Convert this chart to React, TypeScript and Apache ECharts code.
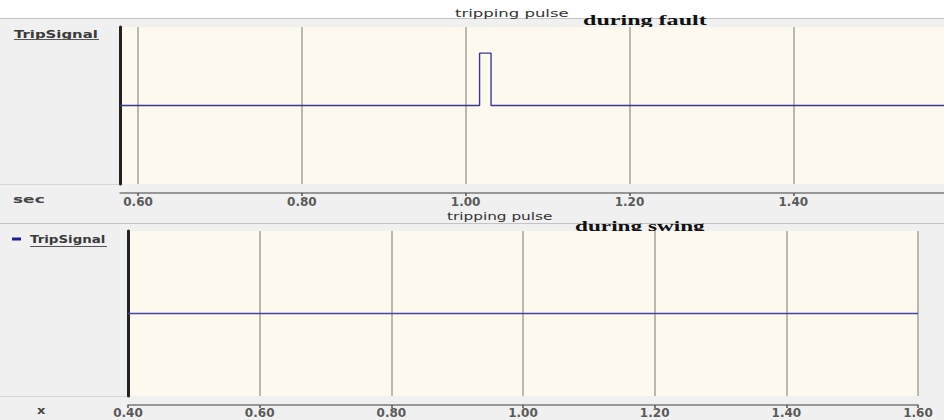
import React, { useEffect, useRef } from "react";
import * as echarts from "echarts";

// Top panel (during fault)
const faultTimes = [0.578, 1.017, 1.017, 1.031, 1.031, 1.584];
const faultValues = [0, 0, 1, 1, 0, 0];
const faultTicks = [0.6, 0.8, 1.0, 1.2, 1.4];
// Bottom panel (during swing)
const swingTimes = [0.4, 1.6];
const swingValues = [0, 0];

const SANS = "'DejaVu Sans', Verdana, sans-serif";
const SERIF = "'Liberation Serif', 'Times New Roman', serif";

export default function App() {
  const ref = useRef<HTMLDivElement>(null);
  useEffect(() => {
    if (!ref.current) return;
    const chart = echarts.init(ref.current, undefined, { renderer: "svg" });
    const fmt = (v: number) => Number(v).toFixed(2);
    const txt = (text: string, x: number, y: number, sx: number, font: any, z = -1) => ({
      type: "text",
      x,
      y,
      scaleX: sx,
      z,
      silent: true,
      style: { text, align: "left", verticalAlign: "middle", ...font },
    });
    const hline = (x1: number, x2: number, y: number, color: string, z = -2) => ({
      type: "line",
      z,
      silent: true,
      shape: { x1, y1: y, x2, y2: y },
      style: { stroke: color, lineWidth: 1 },
    });
    const option: any = {
      animation: false,
      backgroundColor: "#f0f0f0",
      grid: [
        { left: 120, right: 0, top: 27, height: 157, show: true, backgroundColor: "#fdf9ee", borderWidth: 0, outerBoundsMode: "none" },
        { left: 128, right: 26, top: 231, height: 165, show: true, backgroundColor: "#fdf9ee", borderWidth: 0, outerBoundsMode: "none" },
      ],
      xAxis: [
        {
          type: "value",
          gridIndex: 0,
          min: 0.578,
          max: 1.584,
          offset: 9,
          axisLine: { show: true, onZero: false, lineStyle: { color: "#7a7a7a", width: 1.5 } },
          axisTick: { show: true, length: 3, customValues: faultTicks, lineStyle: { color: "#555", width: 1.5 } },
          axisLabel: { customValues: faultTicks, formatter: fmt, margin: 3, color: "#5a5a5a", fontFamily: SANS, fontSize: 12, fontWeight: "bold" },
          splitLine: { show: true, lineStyle: { color: "#bab8af", width: 2 } },
        },
        {
          type: "value",
          gridIndex: 1,
          min: 0.4,
          max: 1.6,
          interval: 0.2,
          offset: 9,
          axisLine: { show: true, onZero: false, lineStyle: { color: "#7a7a7a", width: 1.5 } },
          axisTick: { show: true, length: 3, lineStyle: { color: "#555", width: 1.5 } },
          axisLabel: { formatter: fmt, margin: 2, color: "#5a5a5a", fontFamily: SANS, fontSize: 12, fontWeight: "bold", showMaxLabel: true, showMinLabel: true },
          splitLine: { show: true, lineStyle: { color: "#bab8af", width: 2 } },
        },
      ],
      yAxis: [
        {
          type: "value",
          gridIndex: 0,
          min: -1.5,
          max: 1.5,
          axisLine: { show: true, lineStyle: { color: "#222", width: 3 } },
          axisTick: { show: false },
          axisLabel: { show: false },
          splitLine: { show: false },
        },
        {
          type: "value",
          gridIndex: 1,
          min: -1.5,
          max: 1.5,
          axisLine: { show: true, lineStyle: { color: "#222", width: 3 } },
          axisTick: { show: false },
          axisLabel: { show: false },
          splitLine: { show: false },
        },
      ],
      series: [
        {
          type: "line",
          xAxisIndex: 0,
          yAxisIndex: 0,
          data: faultTimes.map((t, i) => [t, faultValues[i]]),
          showSymbol: false,
          symbol: "none",
          lineStyle: { color: "#3a3a90", width: 1.4 },
        },
        {
          type: "line",
          xAxisIndex: 1,
          yAxisIndex: 1,
          data: swingTimes.map((t, i) => [t, swingValues[i]]),
          showSymbol: false,
          symbol: "none",
          lineStyle: { color: "#4646a0", width: 1.4 },
        },
      ],
      graphic: [
        { type: "rect", z: -3, silent: true, shape: { x: 0, y: 0, width: 944, height: 18 }, style: { fill: "#ffffff" } },
        hline(0, 944, 18.5, "#c4c4c4"),
        hline(0, 944, 223.5, "#c4c4c4"),
        hline(0, 119, 184.5, "#d6d6d6"),
        hline(0, 127, 396.5, "#d6d6d6"),
        txt("tripping pulse", 455, 13, 1.65, { fontFamily: SANS, fontSize: 10, fill: "#333" }),
        txt("during fault", 583, 20.5, 1.72, { fontFamily: SERIF, fontSize: 14, fontWeight: "bold", fill: "#111" }),
        txt("TripSignal", 14, 34.5, 1.49, { fontFamily: SANS, fontSize: 10, fontWeight: "bold", fill: "#3a3a3a" }),
        hline(14, 99, 39.5, "#555", -1),
        txt("sec", 13, 199, 1.7, { fontFamily: SANS, fontSize: 10, fontWeight: "bold", fill: "#444" }),
        txt("tripping pulse", 447, 216.5, 1.53, { fontFamily: SANS, fontSize: 10, fill: "#333" }),
        txt("during swing", 575, 226, 1.66, { fontFamily: SERIF, fontSize: 14, fontWeight: "bold", fill: "#111" }),
        { type: "rect", z: -1, silent: true, shape: { x: 12, y: 237.5, width: 9, height: 3 }, style: { fill: "#1c1c9c" } },
        txt("TripSignal", 30, 240, 1.34, { fontFamily: SANS, fontSize: 10, fontWeight: "bold", fill: "#3a3a3a" }),
        hline(30, 107, 246.5, "#555", -1),
        txt("x", 37, 411, 1.3, { fontFamily: SANS, fontSize: 10, fontWeight: "bold", fill: "#444" }),
      ],
    };
    chart.setOption(option);
    return () => chart.dispose();
  }, []);
  return <div ref={ref} style={{ position: "absolute", left: 0, top: 0, width: 944, height: 420 }} />;
}
